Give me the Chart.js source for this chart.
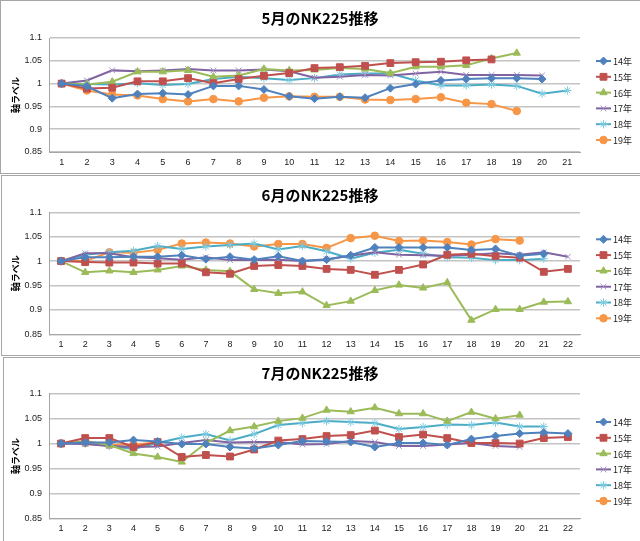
<!DOCTYPE html>
<html><head><meta charset="utf-8">
<script src="https://cdn.jsdelivr.net/npm/chart.js@4/dist/chart.umd.min.js"></script>
<style>
html,body{margin:0;padding:0;background:#fff;width:640px;height:541px;overflow:hidden;position:relative}
.panel{position:absolute;border:1px solid #a6a6a6;box-sizing:border-box}
canvas{position:absolute;left:0}
</style></head><body>
<div class="panel" style="left:0;top:0;width:660px;height:174px"></div>
<div class="panel" style="left:1px;top:175px;width:660px;height:181px"></div>
<div class="panel" style="left:3px;top:357px;width:660px;height:200px"></div>
<canvas id="c1" width="640" height="173" style="top:0"></canvas>
<canvas id="c2" width="640" height="180" style="top:175px"></canvas>
<canvas id="c3" width="640" height="184" style="top:357px"></canvas>
<script>
// ---- data ----
const seriesNames = ['14年','15年','16年','17年','18年','19年'];
const titles = ['5月のNK225推移','6月のNK225推移','7月のNK225推移'];
const yTicks = [0.85, 0.9, 0.95, 1, 1.05, 1.1];
const mayDays = ['1','2','3','4','5','6','7','8','9','10','11','12','13','14','15','16','17','18','19','20','21'];
const junDays = ['1','2','3','4','5','6','7','8','9','10','11','12','13','14','15','16','17','18','19','20','21','22'];
const julDays = ['1','2','3','4','5','6','7','8','9','10','11','12','13','14','15','16','17','18','19','20','21','22'];

const may14 = [1.0,0.994,0.968,0.977,0.979,0.976,0.995,0.995,0.987,0.972,0.967,0.971,0.969,0.99,0.999,1.007,1.01,1.012,1.012,1.01];
const may15 = [1.0,0.989,0.991,1.005,1.005,1.012,1.001,1.01,1.017,1.023,1.034,1.036,1.039,1.045,1.047,1.048,1.051,1.053];
const may16 = [1.0,0.998,1.004,1.026,1.026,1.029,1.015,1.018,1.032,1.029,1.03,1.034,1.032,1.023,1.037,1.037,1.04,1.055,1.067];
const may17 = [1.0,1.007,1.029,1.027,1.029,1.032,1.029,1.029,1.031,1.027,1.013,1.015,1.019,1.018,1.022,1.026,1.019,1.019,1.019,1.018];
const may18 = [1.0,0.999,0.998,1.001,0.997,0.999,1.01,1.015,1.012,1.008,1.012,1.02,1.022,1.022,1.007,0.996,0.996,0.998,0.995,0.978,0.985];
const may19 = [1.0,0.985,0.976,0.974,0.966,0.961,0.966,0.961,0.969,0.972,0.971,0.971,0.965,0.964,0.966,0.97,0.958,0.955,0.94];

const jun14 = [1.0,1.008,1.008,1.009,1.009,1.012,1.004,1.009,1.003,1.01,1.0,1.003,1.012,1.028,1.028,1.028,1.028,1.023,1.025,1.011,1.015];
const jun15 = [1.0,0.998,0.997,0.997,0.995,0.995,0.977,0.974,0.99,0.992,0.99,0.984,0.982,0.972,0.982,0.993,1.013,1.015,1.01,1.007,0.978,0.984];
const jun16 = [1.0,0.977,0.98,0.977,0.982,0.99,0.982,0.979,0.942,0.934,0.937,0.909,0.918,0.94,0.951,0.945,0.956,0.879,0.901,0.901,0.916,0.917];
const jun17 = [1.0,1.016,1.016,1.008,1.006,1.003,1.008,1.002,1.002,1.003,1.0,1.004,1.011,1.018,1.013,1.012,1.011,1.013,1.016,1.013,1.018,1.009];
const jun18 = [1.0,1.013,1.018,1.021,1.031,1.025,1.03,1.033,1.036,1.024,1.031,1.02,1.005,1.017,1.023,1.015,1.008,1.007,1.002,1.002,1.005];
const jun19 = [1.0,1.0,1.018,1.017,1.023,1.036,1.038,1.036,1.03,1.035,1.035,1.027,1.047,1.052,1.041,1.042,1.039,1.034,1.045,1.042];

const jul14 = [1.0,1.002,1.002,1.007,1.004,0.999,0.999,0.993,0.99,0.997,1.005,1.004,1.003,0.993,1.001,1.001,0.997,1.009,1.015,1.02,1.022,1.02];
const jul15 = [1.0,1.011,1.011,0.993,1.003,0.973,0.977,0.974,0.988,1.006,1.009,1.015,1.017,1.026,1.013,1.018,1.011,1.001,1.001,1.0,1.011,1.013];
const jul16 = [1.0,1.005,0.997,0.98,0.973,0.963,1.001,1.026,1.034,1.045,1.051,1.067,1.064,1.072,1.06,1.06,1.045,1.063,1.05,1.057];
const jul17 = [1.0,0.999,0.995,0.993,0.994,1.001,1.007,1.002,1.003,1.003,0.998,0.999,1.005,1.003,0.995,0.995,0.998,1.001,0.995,0.993];
const jul18 = [1.0,1.0,0.995,0.989,1.001,1.012,1.019,1.006,1.019,1.037,1.041,1.045,1.043,1.041,1.029,1.033,1.038,1.037,1.042,1.034,1.034];
const jul19 = [1.0,1.001,0.997,0.998,1.002];

// ---- styles ----
const lineColors = ['#4F81BD','#C0504D','#9BBB59','#8064A2','#4BACC6','#F79646'];
const markerStroke = ['#4F81BD','#C0504D','#9BBB59','#A58FC4','#7CCBE0','#F79646'];
const markerStyles = ['rectRot','rect','triangle','crossRot','star','circle'];
const markerRadius = [4,4.8,4.2,4,4.2,3.8];

const excelLegend = {
  id:'excelLegend',
  afterDraw(chart){
    const ctx = chart.ctx, ca = chart.chartArea;
    const ds = chart.data.datasets, n = ds.length, sp = 15.8;
    const cy = (ca.top + ca.bottom)/2 + 5.5;
    ds.forEach((d,i)=>{
      const y = cy + (i-(n-1)/2)*sp;
      ctx.save();
      ctx.strokeStyle = d.borderColor; ctx.lineWidth = 2;
      ctx.beginPath(); ctx.moveTo(596,y); ctx.lineTo(611,y); ctx.stroke();
      ctx.fillStyle = d.pointBackgroundColor; ctx.strokeStyle = d.pointBorderColor; ctx.lineWidth = 1;
      if (Chart.helpers && Chart.helpers.drawPoint) {
        Chart.helpers.drawPoint(ctx,{pointStyle:d.pointStyle,radius:d.pointRadius,borderWidth:1,rotation:0},603.5,y);
      }
      ctx.fillStyle = '#222';
      ctx.font = '9px "Noto Sans CJK JP"';
      ctx.textBaseline = 'middle'; ctx.textAlign = 'left';
      ctx.fillText(d.label, 613, y+0.5);
      ctx.restore();
    });
  }
};

function makeChart(id, title, labels, series, H, titleCenter, plotTop, plotBottom){
  const datasets = series.map((data,i)=>({
    label: seriesNames[i], data,
    borderColor: lineColors[i], backgroundColor: lineColors[i],
    borderWidth: 2, tension: 0, fill: false,
    pointStyle: markerStyles[i], pointRadius: markerRadius[i], pointHoverRadius: markerRadius[i],
    pointBackgroundColor: lineColors[i], pointBorderColor: markerStroke[i], pointBorderWidth: 1
  }));
  new Chart(document.getElementById(id), {
    type:'line',
    data:{labels, datasets},
    options:{
      responsive:false, animation:false,
      layout:{padding:{left:0,right:0,top:0,bottom:0}},
      plugins:{
        legend:{display:false}, tooltip:{enabled:false},
        title:{display:true, text:title, color:'#000',
          font:{family:'"Noto Sans CJK JP"', size:15, weight:'bold', lineHeight:1.2},
          padding:{top:titleCenter-9, bottom:plotTop-titleCenter-9}}
      },
      scales:{
        x:{offset:true, grid:{display:false, drawTicks:false},
          border:{display:true,color:'#a6a6a6',width:1},
          ticks:{font:{family:'"Liberation Sans"',size:9}, color:'#222', padding:5, maxRotation:0, autoSkip:false},
          afterFit(s){ s.height = H - plotBottom; }},
        y:{min:yTicks[0], max:yTicks[yTicks.length-1],
          afterBuildTicks(s){ s.ticks = yTicks.map(v=>({value:v})); },
          ticks:{callback:v=>String(Math.round(v*100)/100), font:{family:'"Liberation Sans"',size:9}, color:'#222', padding:7},
          grid:{color:'#c4c4c4', lineWidth:1.5, drawTicks:false},
          border:{display:true,color:'#a6a6a6',width:1},
          title:{display:true, text:'軸ラベル', color:'#000', font:{family:'"Noto Sans CJK JP"',size:9,weight:'bold'}, padding:{top:10,bottom:0}},
          afterFit(s){ s.width = 49; }},
        legendSpace:{position:'right', display:true, min:0, max:1,
          grid:{display:false, drawTicks:false}, border:{display:false},
          ticks:{display:false},
          afterFit(s){ s.width = 60; }}
      }
    },
    plugins:[excelLegend]
  });
}

makeChart('c1', titles[0], mayDays, [may14,may15,may16,may17,may18,may19], 173, 18, 38, 152);
makeChart('c2', titles[1], junDays, [jun14,jun15,jun16,jun17,jun18,jun19], 180, 20, 37.3, 159.3);
makeChart('c3', titles[2], julDays, [jul14,jul15,jul16,jul17,jul18,jul19], 184, 16.7, 36.7, 161.3);
</script>
</body></html>
